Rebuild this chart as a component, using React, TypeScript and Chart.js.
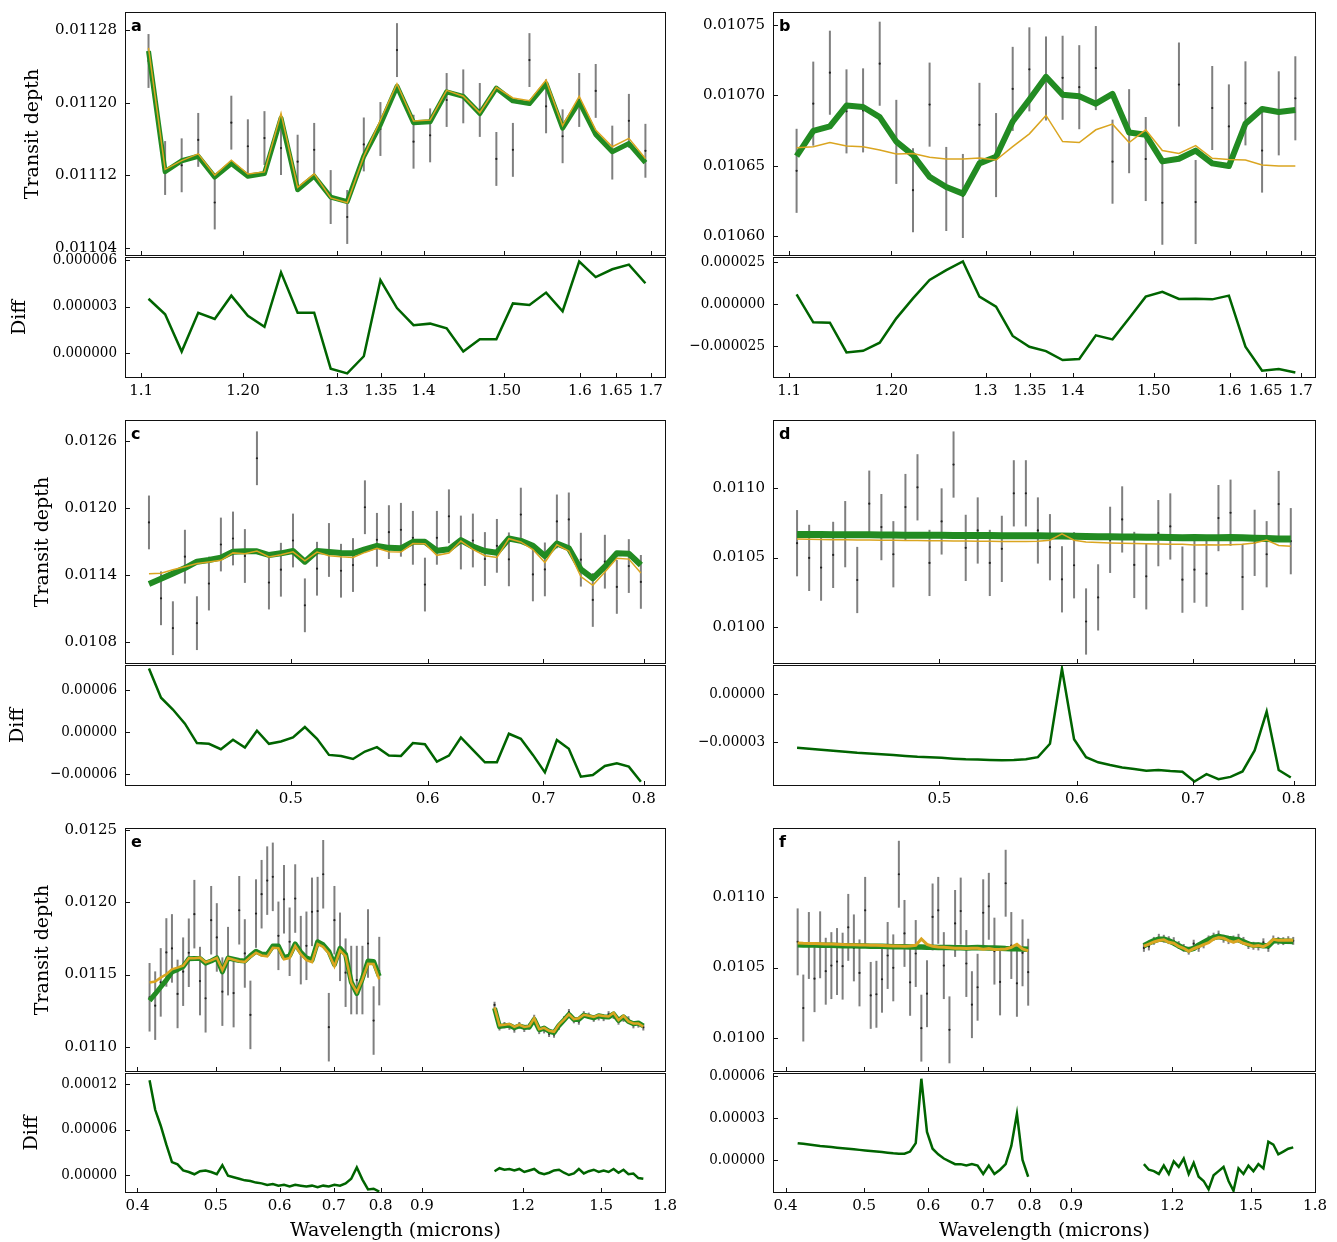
import React, { useEffect, useRef } from 'react';
import { Chart, registerables } from 'chart.js';

Chart.register(...registerables);
Chart.defaults.font.family = "'DejaVu Serif', serif";
Chart.defaults.font.size = 15;
Chart.defaults.color = '#000';

// ---------------- wavelengths ----------------
const WAVE_NIR = [1.107, 1.1228, 1.1388, 1.155, 1.1714, 1.1881, 1.205, 1.2222, 1.2396, 1.2573, 1.2752, 1.2933, 1.3117, 1.3304, 1.3494, 1.3686, 1.3881, 1.4079, 1.4279, 1.4483, 1.4689, 1.4898, 1.511, 1.5325, 1.5544, 1.5765, 1.599, 1.6217, 1.6448, 1.6683, 1.692];
const WAVE_VIS = [0.414, 0.4207, 0.4274, 0.4343, 0.4413, 0.4484, 0.4556, 0.463, 0.4704, 0.478, 0.4857, 0.4935, 0.5015, 0.5095, 0.5178, 0.5261, 0.5346, 0.5432, 0.5519, 0.5608, 0.5698, 0.579, 0.5883, 0.5978, 0.6074, 0.6172, 0.6271, 0.6372, 0.6475, 0.6579, 0.6685, 0.6792, 0.6902, 0.7013, 0.7126, 0.724, 0.7357, 0.7475, 0.7596, 0.7718, 0.7842, 0.7969];

// ---------------- panel a ----------------
const A_DATA = [0.011246, 0.011128, 0.011131, 0.011159, 0.01109, 0.011178, 0.011152, 0.011161, 0.01115, 0.011135, 0.011148, 0.011096, 0.011074, 0.011154, 0.011171, 0.011258, 0.011157, 0.011164, 0.011203, 0.011207, 0.011192, 0.011138, 0.011148, 0.011247, 0.011196, 0.011163, 0.011203, 0.011213, 0.011145, 0.01118, 0.011147];
const A_ERR = [2.97e-5, 2.97e-5, 2.97e-5, 2.97e-5, 2.97e-5, 2.97e-5, 2.97e-5, 2.97e-5, 2.97e-5, 2.97e-5, 2.97e-5, 2.97e-5, 2.97e-5, 2.97e-5, 2.97e-5, 2.97e-5, 2.97e-5, 2.97e-5, 2.97e-5, 2.97e-5, 2.97e-5, 2.97e-5, 2.97e-5, 2.97e-5, 2.97e-5, 2.97e-5, 2.97e-5, 2.97e-5, 2.97e-5, 2.97e-5, 2.97e-5];
const A_FIT = [0.011257, 0.011124, 0.011136, 0.011141, 0.011118, 0.011133, 0.011119, 0.011122, 0.011183, 0.011104, 0.011119, 0.011096, 0.011091, 0.011141, 0.011176, 0.011218, 0.011178, 0.011179, 0.011212, 0.011207, 0.011188, 0.011216, 0.011202, 0.011199, 0.011221, 0.011172, 0.011201, 0.011165, 0.011146, 0.011155, 0.011134];
const A_ALT = [0.0112605, 0.0111265, 0.0111361, 0.0111436, 0.0111202, 0.0111367, 0.0111214, 0.0111237, 0.0111882, 0.0111066, 0.0111216, 0.011095, 0.0110897, 0.0111408, 0.0111807, 0.0112209, 0.0111798, 0.0111809, 0.0112136, 0.0112071, 0.0111889, 0.0112169, 0.0112052, 0.0112021, 0.0112249, 0.0111747, 0.0112069, 0.0111699, 0.0111514, 0.0111607, 0.0111385];
const A_DIFF = [3.5e-6, 2.5e-6, 0.1e-6, 2.6e-6, 2.2e-6, 3.7e-6, 2.4e-6, 1.7e-6, 5.2e-6, 2.6e-6, 2.6e-6, -1.0e-6, -1.3e-6, -0.2e-6, 4.7e-6, 2.9e-6, 1.8e-6, 1.9e-6, 1.6e-6, 0.1e-6, 0.9e-6, 0.9e-6, 3.2e-6, 3.1e-6, 3.9e-6, 2.7e-6, 5.9e-6, 4.9e-6, 5.4e-6, 5.7e-6, 4.5e-6];

// ---------------- panel b ----------------
const B_DATA = [0.0106463, 0.0106941, 0.0107161, 0.0106886, 0.0106893, 0.0107225, 0.0106669, 0.0106325, 0.0106934, 0.0106334, 0.0106284, 0.010679, 0.0106575, 0.0107046, 0.0107185, 0.010712, 0.0107125, 0.0107058, 0.0107194, 0.0106528, 0.0106745, 0.0106547, 0.0106236, 0.0107077, 0.0106241, 0.010691, 0.0106779, 0.0106943, 0.0106607, 0.0106872, 0.0106979];
const B_ERR = [2.99e-5, 2.99e-5, 2.99e-5, 2.99e-5, 2.99e-5, 2.99e-5, 2.99e-5, 2.99e-5, 2.99e-5, 2.99e-5, 2.99e-5, 2.99e-5, 2.99e-5, 2.99e-5, 2.99e-5, 2.99e-5, 2.99e-5, 2.99e-5, 2.99e-5, 2.99e-5, 2.99e-5, 2.99e-5, 2.99e-5, 2.99e-5, 2.99e-5, 2.99e-5, 2.99e-5, 2.99e-5, 2.99e-5, 2.99e-5, 2.99e-5];
const B_FIT = [0.0106568, 0.0106747, 0.0106779, 0.0106927, 0.0106917, 0.0106845, 0.0106671, 0.0106575, 0.010642, 0.0106348, 0.0106301, 0.0106516, 0.0106563, 0.0106814, 0.010697, 0.0107132, 0.0107005, 0.0106994, 0.0106941, 0.010701, 0.0106736, 0.0106719, 0.010653, 0.0106549, 0.0106607, 0.0106516, 0.0106497, 0.0106798, 0.0106903, 0.0106881, 0.0106896];
const B_ALT = [0.0106628, 0.0106635, 0.0106664, 0.010664, 0.0106635, 0.0106611, 0.0106583, 0.0106587, 0.0106559, 0.0106547, 0.0106547, 0.0106554, 0.010654, 0.0106635, 0.0106726, 0.0106857, 0.0106671, 0.0106664, 0.0106755, 0.0106795, 0.0106664, 0.0106755, 0.0106607, 0.0106587, 0.0106642, 0.0106552, 0.0106544, 0.010654, 0.0106504, 0.0106497, 0.0106497];
const B_DIFF = [5.8e-6, -1.09e-5, -1.11e-5, -2.88e-5, -2.78e-5, -2.3e-5, -8.5e-6, 3.4e-6, 1.43e-5, 2.02e-5, 2.54e-5, 4.4e-6, -1.6e-6, -1.9e-5, -2.54e-5, -2.8e-5, -3.33e-5, -3.27e-5, -1.86e-5, -2.1e-5, -8.5e-6, 4.4e-6, 7.3e-6, 3.0e-6, 3.2e-6, 2.8e-6, 5.0e-6, -2.54e-5, -3.97e-5, -3.87e-5, -4.07e-5];

// ---------------- panel c ----------------
const C_DATA = [0.011871, 0.011191, 0.010923, 0.011564, 0.010968, 0.011323, 0.011673, 0.011727, 0.01157, 0.012446, 0.011332, 0.011447, 0.011709, 0.011128, 0.011456, 0.011624, 0.011438, 0.011489, 0.012007, 0.011715, 0.011784, 0.011805, 0.011733, 0.011314, 0.011733, 0.011926, 0.011691, 0.011709, 0.011543, 0.011661, 0.01154, 0.011941, 0.011405, 0.01145, 0.01188, 0.011898, 0.011537, 0.011176, 0.011519, 0.011293, 0.01148, 0.011338];
const C_ERR = [2.41e-4, 2.41e-4, 2.41e-4, 2.41e-4, 2.41e-4, 2.41e-4, 2.41e-4, 2.41e-4, 2.41e-4, 2.41e-4, 2.41e-4, 2.41e-4, 2.41e-4, 2.41e-4, 2.41e-4, 2.41e-4, 2.41e-4, 2.41e-4, 2.41e-4, 2.41e-4, 2.41e-4, 2.41e-4, 2.41e-4, 2.41e-4, 2.41e-4, 2.41e-4, 2.41e-4, 2.41e-4, 2.41e-4, 2.41e-4, 2.41e-4, 2.41e-4, 2.41e-4, 2.41e-4, 2.41e-4, 2.41e-4, 2.41e-4, 2.41e-4, 2.41e-4, 2.41e-4, 2.41e-4, 2.41e-4];
const C_FIT = [0.01132, 0.011366, 0.011414, 0.011462, 0.011519, 0.011534, 0.011555, 0.011609, 0.011612, 0.011612, 0.011579, 0.011594, 0.011615, 0.011519, 0.011615, 0.011606, 0.011597, 0.011594, 0.01163, 0.011661, 0.011643, 0.011639, 0.011697, 0.011697, 0.011618, 0.01163, 0.011712, 0.011655, 0.011615, 0.0116, 0.011727, 0.011706, 0.011661, 0.01157, 0.011682, 0.011639, 0.01145, 0.011369, 0.011474, 0.011594, 0.011591, 0.011489];
const C_ALT = [0.011411, 0.011415, 0.011446, 0.011474, 0.011503, 0.011517, 0.011531, 0.011598, 0.01159, 0.011614, 0.011562, 0.011581, 0.011607, 0.011526, 0.011605, 0.011573, 0.011563, 0.011556, 0.011602, 0.011639, 0.011609, 0.011605, 0.011681, 0.01168, 0.011576, 0.011596, 0.011704, 0.01163, 0.011572, 0.011557, 0.011725, 0.011696, 0.011628, 0.011512, 0.011671, 0.011615, 0.011386, 0.011308, 0.011426, 0.011549, 0.011542, 0.011418];
const C_DIFF = [9.07e-5, 4.9e-5, 3.22e-5, 1.2e-5, -1.58e-5, -1.68e-5, -2.45e-5, -1.1e-5, -2.21e-5, 1.9e-6, -1.68e-5, -1.34e-5, -7.7e-6, 7.2e-6, -9.6e-6, -3.26e-5, -3.41e-5, -3.84e-5, -2.78e-5, -2.16e-5, -3.36e-5, -3.41e-5, -1.58e-5, -1.73e-5, -4.22e-5, -3.36e-5, -7.7e-6, -2.54e-5, -4.32e-5, -4.32e-5, -2.4e-6, -9.6e-6, -3.26e-5, -5.76e-5, -1.15e-5, -2.4e-5, -6.38e-5, -6.14e-5, -4.85e-5, -4.46e-5, -4.94e-5, -7.1e-5];

// ---------------- panel d ----------------
const D_DATA = [0.0106039, 0.0104977, 0.0104276, 0.0105194, 0.0106691, 0.0103383, 0.0108889, 0.0107199, 0.0105242, 0.0108648, 0.0110072, 0.0104615, 0.0107609, 0.0111715, 0.0105701, 0.0106957, 0.0104615, 0.0105629, 0.0109638, 0.0109638, 0.0106957, 0.0105749, 0.0103431, 0.0104446, 0.0100388, 0.0102127, 0.0106281, 0.0107754, 0.010447, 0.0103649, 0.0106764, 0.0107247, 0.0103407, 0.0104131, 0.0103842, 0.0107851, 0.0108237, 0.01036, 0.0106064, 0.0105242, 0.0108865, 0.0106184];
const D_ERR = [2.39e-4, 2.39e-4, 2.39e-4, 2.39e-4, 2.39e-4, 2.39e-4, 2.39e-4, 2.39e-4, 2.39e-4, 2.39e-4, 2.39e-4, 2.39e-4, 2.39e-4, 2.39e-4, 2.39e-4, 2.39e-4, 2.39e-4, 2.39e-4, 2.39e-4, 2.39e-4, 2.39e-4, 2.39e-4, 2.39e-4, 2.39e-4, 2.39e-4, 2.39e-4, 2.39e-4, 2.39e-4, 2.39e-4, 2.39e-4, 2.39e-4, 2.39e-4, 2.39e-4, 2.39e-4, 2.39e-4, 2.39e-4, 2.39e-4, 2.39e-4, 2.39e-4, 2.39e-4, 2.39e-4, 2.39e-4];
const D_FIT = [0.010667, 0.010666, 0.010666, 0.010665, 0.010665, 0.010664, 0.010664, 0.010663, 0.010663, 0.010662, 0.010662, 0.010661, 0.010661, 0.01066, 0.01066, 0.010659, 0.010659, 0.010658, 0.010658, 0.010657, 0.010657, 0.010656, 0.010656, 0.010654, 0.010652, 0.010651, 0.01065, 0.010649, 0.010648, 0.010647, 0.010646, 0.010645, 0.010644, 0.010645, 0.010643, 0.010644, 0.010645, 0.010644, 0.01064, 0.010637, 0.010635, 0.010634];
const D_ALT = [0.0106334, 0.0106318, 0.0106311, 0.0106295, 0.0106289, 0.0106272, 0.0106268, 0.0106254, 0.0106248, 0.0106233, 0.0106227, 0.0106215, 0.0106211, 0.0106196, 0.0106192, 0.010618, 0.0106178, 0.0106166, 0.0106168, 0.0106162, 0.0106175, 0.0106249, 0.0106718, 0.0106257, 0.0106125, 0.0106083, 0.0106056, 0.0106031, 0.0106011, 0.010599, 0.0105985, 0.0105968, 0.0105954, 0.0105903, 0.0105929, 0.0105908, 0.0105932, 0.0105956, 0.0106047, 0.010626, 0.0105875, 0.0105818];
const D_DIFF = [-3.36e-5, -3.42e-5, -3.49e-5, -3.55e-5, -3.61e-5, -3.68e-5, -3.72e-5, -3.76e-5, -3.82e-5, -3.87e-5, -3.93e-5, -3.95e-5, -3.99e-5, -4.04e-5, -4.08e-5, -4.1e-5, -4.12e-5, -4.14e-5, -4.12e-5, -4.08e-5, -3.95e-5, -3.11e-5, 1.58e-5, -2.83e-5, -3.95e-5, -4.27e-5, -4.44e-5, -4.59e-5, -4.69e-5, -4.8e-5, -4.75e-5, -4.82e-5, -4.86e-5, -5.47e-5, -5.01e-5, -5.32e-5, -5.18e-5, -4.84e-5, -3.53e-5, -1.1e-5, -4.75e-5, -5.22e-5];

// ---------------- panel e ----------------
const E_VIS_DATA = [0.011343, 0.011285, 0.011446, 0.011653, 0.011681, 0.011366, 0.01152, 0.011651, 0.011918, 0.011455, 0.011336, 0.011876, 0.011757, 0.011382, 0.011593, 0.011372, 0.011945, 0.011646, 0.011221, 0.011922, 0.012056, 0.01215, 0.012176, 0.011768, 0.012021, 0.011727, 0.012026, 0.011669, 0.011699, 0.011934, 0.011939, 0.012194, 0.011136, 0.011876, 0.011692, 0.011513, 0.011462, 0.011462, 0.011462, 0.011715, 0.011182, 0.011524];
const E_VIS_ERR = [2.37e-4, 2.37e-4, 2.37e-4, 2.37e-4, 2.37e-4, 2.37e-4, 2.37e-4, 2.37e-4, 2.37e-4, 2.37e-4, 2.37e-4, 2.37e-4, 2.37e-4, 2.37e-4, 2.37e-4, 2.37e-4, 2.37e-4, 2.37e-4, 2.37e-4, 2.37e-4, 2.37e-4, 2.37e-4, 2.37e-4, 2.37e-4, 2.37e-4, 2.37e-4, 2.37e-4, 2.37e-4, 2.37e-4, 2.37e-4, 2.37e-4, 2.37e-4, 2.37e-4, 2.37e-4, 2.37e-4, 2.37e-4, 2.37e-4, 2.37e-4, 2.37e-4, 2.37e-4, 2.37e-4, 2.37e-4];
const E_VIS_FIT = [0.01132, 0.011366, 0.011414, 0.011462, 0.011519, 0.011534, 0.011555, 0.011609, 0.011612, 0.011612, 0.011579, 0.011594, 0.011615, 0.011519, 0.011615, 0.011606, 0.011597, 0.011594, 0.01163, 0.011661, 0.011643, 0.011639, 0.011697, 0.011697, 0.011618, 0.01163, 0.011712, 0.011655, 0.011615, 0.0116, 0.011727, 0.011706, 0.011661, 0.01157, 0.011682, 0.011639, 0.01145, 0.011369, 0.011474, 0.011594, 0.011591, 0.011489];
const E_VIS_ALT = [0.011445, 0.011452, 0.011479, 0.011502, 0.011536, 0.011548, 0.011561, 0.011613, 0.011613, 0.011617, 0.011585, 0.011598, 0.011616, 0.011532, 0.011614, 0.011603, 0.011592, 0.011587, 0.011622, 0.011651, 0.011632, 0.011626, 0.011685, 0.011683, 0.011605, 0.011615, 0.011699, 0.011641, 0.0116, 0.011586, 0.011711, 0.011692, 0.011646, 0.011557, 0.011668, 0.011628, 0.011445, 0.011379, 0.011468, 0.011575, 0.011573, 0.011467];
const E_VIS_DIFF = [1.25e-4, 8.6e-5, 6.5e-5, 4.0e-5, 1.7e-5, 1.4e-5, 6e-6, 4e-6, 1e-6, 5e-6, 6e-6, 4e-6, 1e-6, 1.3e-5, -1e-6, -3e-6, -5e-6, -7e-6, -8e-6, -1.0e-5, -1.1e-5, -1.3e-5, -1.2e-5, -1.4e-5, -1.3e-5, -1.5e-5, -1.3e-5, -1.4e-5, -1.5e-5, -1.4e-5, -1.6e-5, -1.4e-5, -1.5e-5, -1.3e-5, -1.4e-5, -1.1e-5, -5e-6, 1.0e-5, -6e-6, -1.9e-5, -1.8e-5, -2.2e-5];
const E_NIR_DATA = [0.01129, 0.011135, 0.01115, 0.01114, 0.01112, 0.01115, 0.011125, 0.01114, 0.0112, 0.01111, 0.011115, 0.01109, 0.011085, 0.01114, 0.01119, 0.01124, 0.011185, 0.011175, 0.011225, 0.011215, 0.011195, 0.011205, 0.0112, 0.011225, 0.011215, 0.011175, 0.011195, 0.01119, 0.01115, 0.011155, 0.011135];
const E_NIR_ERR = [2.2e-5, 2.2e-5, 2.2e-5, 2.2e-5, 2.2e-5, 2.2e-5, 2.2e-5, 2.2e-5, 2.2e-5, 2.2e-5, 2.2e-5, 2.2e-5, 2.2e-5, 2.2e-5, 2.2e-5, 2.2e-5, 2.2e-5, 2.2e-5, 2.2e-5, 2.2e-5, 2.2e-5, 2.2e-5, 2.2e-5, 2.2e-5, 2.2e-5, 2.2e-5, 2.2e-5, 2.2e-5, 2.2e-5, 2.2e-5, 2.2e-5];
const E_NIR_FIT = [0.011268, 0.01114, 0.011146, 0.01115, 0.011132, 0.011145, 0.011134, 0.011137, 0.01119, 0.011118, 0.01113, 0.011108, 0.011098, 0.011148, 0.011185, 0.011225, 0.01119, 0.01119, 0.01122, 0.01121, 0.0112, 0.011215, 0.011208, 0.011206, 0.011228, 0.011182, 0.011208, 0.011175, 0.01116, 0.011165, 0.011145];
const E_NIR_ALT = [0.011273, 0.011149, 0.011153, 0.011158, 0.011138, 0.011153, 0.011138, 0.011143, 0.011198, 0.011121, 0.011131, 0.011111, 0.011104, 0.011155, 0.011188, 0.011225, 0.011192, 0.011198, 0.011222, 0.011215, 0.011207, 0.011219, 0.011214, 0.01121, 0.011236, 0.011185, 0.011215, 0.011176, 0.011162, 0.011161, 0.01114];
const E_NIR_DIFF = [5e-6, 9e-6, 7e-6, 8e-6, 6e-6, 8e-6, 4e-6, 6e-6, 8e-6, 3e-6, 1e-6, 3e-6, 6e-6, 7e-6, 3e-6, 0, 2e-6, 8e-6, 2e-6, 5e-6, 7e-6, 4e-6, 6e-6, 4e-6, 8e-6, 3e-6, 7e-6, 1e-6, 2e-6, -4e-6, -5e-6];

// ---------------- panel f ----------------
const F_VIS_DATA = [0.010683, 0.010212, 0.010657, 0.010421, 0.010662, 0.010474, 0.010514, 0.010543, 0.01051, 0.010786, 0.01064, 0.010462, 0.010907, 0.010302, 0.01031, 0.010417, 0.010586, 0.010498, 0.011164, 0.010743, 0.010395, 0.0106, 0.010069, 0.010314, 0.01086, 0.010907, 0.010514, 0.010057, 0.010814, 0.010902, 0.010529, 0.010236, 0.01036, 0.01089, 0.010936, 0.010617, 0.010398, 0.0111, 0.010657, 0.010388, 0.010605, 0.010467];
const F_VIS_ERR = [2.38e-4, 2.38e-4, 2.38e-4, 2.38e-4, 2.38e-4, 2.38e-4, 2.38e-4, 2.38e-4, 2.38e-4, 2.38e-4, 2.38e-4, 2.38e-4, 2.38e-4, 2.38e-4, 2.38e-4, 2.38e-4, 2.38e-4, 2.38e-4, 2.38e-4, 2.38e-4, 2.38e-4, 2.38e-4, 2.38e-4, 2.38e-4, 2.38e-4, 2.38e-4, 2.38e-4, 2.38e-4, 2.38e-4, 2.38e-4, 2.38e-4, 2.38e-4, 2.38e-4, 2.38e-4, 2.38e-4, 2.38e-4, 2.38e-4, 2.38e-4, 2.38e-4, 2.38e-4, 2.38e-4, 2.38e-4];
const F_VIS_FIT = [0.010662, 0.010661, 0.010661, 0.01066, 0.010659, 0.010658, 0.010658, 0.010657, 0.010656, 0.010655, 0.010655, 0.010654, 0.010653, 0.010652, 0.010652, 0.010651, 0.01065, 0.010649, 0.010649, 0.010648, 0.010647, 0.010646, 0.010646, 0.010645, 0.010644, 0.010643, 0.010643, 0.010642, 0.010641, 0.010641, 0.01064, 0.010641, 0.010642, 0.010641, 0.01064, 0.010639, 0.010637, 0.010635, 0.010634, 0.010633, 0.010632, 0.010631];
const F_VIS_ALT = [0.010674, 0.0106725, 0.010672, 0.0106705, 0.010669, 0.0106676, 0.0106672, 0.0106658, 0.0106644, 0.010663, 0.0106626, 0.0106612, 0.0106598, 0.0106584, 0.010658, 0.0106566, 0.0106552, 0.0106538, 0.0106535, 0.0106525, 0.010653, 0.010658, 0.010704, 0.010665, 0.010652, 0.010647, 0.010644, 0.010641, 0.010638, 0.010638, 0.010636, 0.010638, 0.010638, 0.010631, 0.010636, 0.010629, 0.01063, 0.010632, 0.010644, 0.010666, 0.010632, 0.010619];
const F_VIS_DIFF = [1.2e-5, 1.15e-5, 1.1e-5, 1.05e-5, 1.0e-5, 9.6e-6, 9.2e-6, 8.8e-6, 8.4e-6, 8.0e-6, 7.6e-6, 7.2e-6, 6.8e-6, 6.4e-6, 6.0e-6, 5.6e-6, 5.2e-6, 4.8e-6, 4.5e-6, 4.5e-6, 6e-6, 1.2e-5, 5.8e-5, 2.0e-5, 8e-6, 4e-6, 1e-6, -1e-6, -3e-6, -3e-6, -4e-6, -3e-6, -4e-6, -1.0e-5, -4e-6, -1.0e-5, -7e-6, -3e-6, 1.0e-5, 3.3e-5, 0, -1.2e-5];
const F_NIR_DATA = [0.01064, 0.01065, 0.01069, 0.010712, 0.010705, 0.010695, 0.010688, 0.01066, 0.01064, 0.01062, 0.01067, 0.01064, 0.010665, 0.0107, 0.01072, 0.010735, 0.010705, 0.010695, 0.0107, 0.010712, 0.01069, 0.01066, 0.010655, 0.01065, 0.01068, 0.01064, 0.0107, 0.01069, 0.010688, 0.010695, 0.01069];
const F_NIR_ERR = [2.8e-5, 2.8e-5, 2.8e-5, 2.8e-5, 2.8e-5, 2.8e-5, 2.8e-5, 2.8e-5, 2.8e-5, 2.8e-5, 2.8e-5, 2.8e-5, 2.8e-5, 2.8e-5, 2.8e-5, 2.8e-5, 2.8e-5, 2.8e-5, 2.8e-5, 2.8e-5, 2.8e-5, 2.8e-5, 2.8e-5, 2.8e-5, 2.8e-5, 2.8e-5, 2.8e-5, 2.8e-5, 2.8e-5, 2.8e-5, 2.8e-5];
const F_NIR_FIT = [0.010655, 0.010674, 0.01069, 0.010702, 0.010702, 0.01069, 0.010674, 0.010655, 0.010636, 0.010626, 0.010636, 0.01066, 0.010679, 0.010698, 0.010714, 0.010721, 0.010714, 0.010707, 0.010702, 0.010698, 0.010683, 0.010667, 0.01066, 0.01066, 0.010655, 0.010655, 0.01069, 0.01069, 0.010688, 0.010688, 0.010686];
const F_NIR_ALT = [0.010652, 0.010667, 0.010682, 0.010692, 0.010698, 0.01068, 0.010673, 0.01065, 0.010637, 0.010616, 0.010634, 0.010648, 0.010664, 0.010677, 0.010703, 0.010713, 0.010709, 0.010692, 0.01068, 0.010692, 0.010673, 0.010663, 0.010652, 0.010657, 0.010649, 0.010668, 0.010701, 0.010694, 0.010694, 0.010696, 0.010695];
const F_NIR_DIFF = [-3e-6, -7e-6, -8e-6, -1.0e-5, -4e-6, -1.0e-5, -1e-6, -5e-6, 1e-6, -1.0e-5, -2e-6, -1.2e-5, -1.5e-5, -2.1e-5, -1.1e-5, -8e-6, -5e-6, -1.5e-5, -2.2e-5, -6e-6, -1.0e-5, -4e-6, -8e-6, -3e-6, -6e-6, 1.3e-5, 1.1e-5, 4e-6, 6e-6, 8e-6, 9e-6];

// ---------------- ticks ----------------
const NIR_TICKS = [1.1, 1.2, 1.3, 1.35, 1.4, 1.5, 1.6, 1.65, 1.7];
const NIR_TICK_LABELS = ['1.1', '1.20', '1.3', '1.35', '1.4', '1.50', '1.6', '1.65', '1.7'];
const VIS_TICKS = [0.5, 0.6, 0.7, 0.8];
const VIS_TICK_LABELS = ['0.5', '0.6', '0.7', '0.8'];
const ALL_TICKS = [0.4, 0.5, 0.6, 0.7, 0.8, 0.9, 1.2, 1.5, 1.8];
const ALL_TICK_LABELS = ['0.4', '0.5', '0.6', '0.7', '0.8', '0.9', '1.2', '1.5', '1.8'];

const A_YTICKS = [0.01104, 0.01112, 0.0112, 0.01128];
const A_YLABELS = ['0.01104', '0.01112', '0.01120', '0.01128'];
const A_DTICKS = [0, 3e-6, 6e-6];
const A_DLABELS = ['0.000000', '0.000003', '0.000006'];
const B_YTICKS = [0.0106, 0.01065, 0.0107, 0.01075];
const B_YLABELS = ['0.01060', '0.01065', '0.01070', '0.01075'];
const B_DTICKS = [-2.5e-5, 0, 2.5e-5];
const B_DLABELS = ['\u22120.000025', '0.000000', '0.000025'];
const C_YTICKS = [0.0108, 0.0114, 0.012, 0.0126];
const C_YLABELS = ['0.0108', '0.0114', '0.0120', '0.0126'];
const C_DTICKS = [-6e-5, 0, 6e-5];
const C_DLABELS = ['\u22120.00006', '0.00000', '0.00006'];
const D_YTICKS = [0.01, 0.0105, 0.011];
const D_YLABELS = ['0.0100', '0.0105', '0.0110'];
const D_DTICKS = [-3e-5, 0];
const D_DLABELS = ['\u22120.00003', '0.00000'];
const E_YTICKS = [0.011, 0.0115, 0.012, 0.0125];
const E_YLABELS = ['0.0110', '0.0115', '0.0120', '0.0125'];
const E_DTICKS = [0, 6e-5, 1.2e-4];
const E_DLABELS = ['0.00000', '0.00006', '0.00012'];
const F_YTICKS = [0.01, 0.0105, 0.011];
const F_YLABELS = ['0.0100', '0.0105', '0.0110'];
const F_DTICKS = [0, 3e-5, 6e-5];
const F_DLABELS = ['0.00000', '0.00003', '0.00006'];

// ---------------- styling ----------------
const GREEN = '#228B22';
const GOLD = '#DAA520';
const DIFF_GREEN = '#006400';
const ERR_COLOR = 'rgba(105,105,105,0.85)';

type Group = { x: number[]; data?: number[]; err?: number[]; fit?: number[]; alt?: number[]; diff?: number[] };
type Spec = {
  key: string;
  kind: 'main' | 'diff';
  col: 0 | 1;
  top: number;
  bottom: number;
  groups: Group[];
  xMin: number; xMax: number; xTicks: number[]; xLabels: string[];
  yMin: number; yMax: number; yTicks: number[]; yLabels: string[];
  fitW?: number; altW?: number;
  letter?: string;
  yTitle?: string; yTitleX?: number;
  xTitle?: string;
  showX: boolean;
};

const pts = (xs: number[], ys: number[]) => xs.map((x, i) => ({ x, y: ys[i] }));

const decor = {
  id: 'decor',
  beforeDatasetsDraw(chart: any) {
    const { ctx, chartArea: a, scales } = chart;
    const xs = scales.x, ys = scales.y;
    ctx.save();
    ctx.beginPath();
    ctx.rect(a.left, a.top, a.right - a.left, a.bottom - a.top);
    ctx.clip();
    ctx.strokeStyle = ERR_COLOR;
    ctx.lineWidth = 2;
    chart.data.datasets.forEach((ds: any) => {
      if (!ds.errs) return;
      ds.data.forEach((p: any, i: number) => {
        const px = xs.getPixelForValue(p.x);
        ctx.beginPath();
        ctx.moveTo(px, ys.getPixelForValue(p.y - ds.errs[i]));
        ctx.lineTo(px, ys.getPixelForValue(p.y + ds.errs[i]));
        ctx.stroke();
      });
    });
    ctx.restore();
  },
  afterDraw(chart: any, _args: any, o: any) {
    const { ctx, chartArea: a, scales } = chart;
    ctx.save();
    ctx.strokeStyle = '#111';
    ctx.lineWidth = 1;
    ctx.strokeRect(a.left + 0.5, a.top + 0.5, a.right - a.left - 1, a.bottom - a.top - 1);
    ctx.beginPath();
    scales.x.ticks.forEach((t: any) => {
      const px = Math.round(scales.x.getPixelForValue(t.value)) + 0.5;
      ctx.moveTo(px, a.bottom);
      ctx.lineTo(px, a.bottom - 5);
    });
    scales.y.ticks.forEach((t: any) => {
      const py = Math.round(scales.y.getPixelForValue(t.value)) + 0.5;
      ctx.moveTo(a.left, py);
      ctx.lineTo(a.left + 5, py);
    });
    ctx.stroke();
    ctx.fillStyle = '#000';
    if (o.letter) {
      ctx.font = "bold 16px 'DejaVu Sans', sans-serif";
      ctx.textAlign = 'left';
      ctx.textBaseline = 'alphabetic';
      ctx.fillText(o.letter, a.left + 6, a.top + 19);
    }
    if (o.yTitle) {
      ctx.font = "19px 'DejaVu Serif', serif";
      ctx.save();
      ctx.translate(o.yTitleX, (a.top + a.bottom) / 2);
      ctx.rotate(-Math.PI / 2);
      ctx.textAlign = 'center';
      ctx.textBaseline = 'middle';
      ctx.fillText(o.yTitle, 0, 0);
      ctx.restore();
    }
    if (o.xTitle) {
      ctx.font = "19px 'DejaVu Serif', serif";
      ctx.textAlign = 'center';
      ctx.textBaseline = 'middle';
      ctx.fillText(o.xTitle, (a.left + a.right) / 2, a.bottom + 38);
    }
    ctx.restore();
  },
};

function geometry(s: Spec) {
  const canvasLeft = s.col === 0 ? 0 : 670;
  const canvasWidth = s.col === 0 ? 700 : 667;
  const plotLeft = s.col === 0 ? 125 : 773;
  const plotRight = s.col === 0 ? 666 : 1316;
  const padTop = 20;
  const xh = s.showX ? 28 : 0;
  const padBottom = s.kind === 'main' ? 20 : s.xTitle ? 32 : 10;
  const canvasTop = s.top - padTop;
  const canvasHeight = padTop + (s.bottom - s.top) + xh + padBottom;
  return { canvasLeft, canvasWidth, canvasTop, canvasHeight, yw: plotLeft - canvasLeft, padRight: canvasLeft + canvasWidth - plotRight, padTop, padBottom, xh };
}

function buildConfig(s: Spec): any {
  const g = geometry(s);
  const datasets: any[] = [];
  s.groups.forEach((gr) => {
    if (s.kind === 'main') {
      datasets.push({ data: pts(gr.x, gr.alt!), borderColor: GOLD, borderWidth: s.altW, pointRadius: 0, tension: 0, fill: false, order: 0 });
      datasets.push({ data: pts(gr.x, gr.fit!), borderColor: GREEN, borderWidth: s.fitW, pointRadius: 0, tension: 0, fill: false, order: 1, borderJoinStyle: 'round' });
      datasets.push({ data: pts(gr.x, gr.data!), errs: gr.err, showLine: false, pointRadius: 1.1, pointBackgroundColor: '#222', pointBorderColor: '#222', pointBorderWidth: 0, order: 2 });
    } else {
      datasets.push({ data: pts(gr.x, gr.diff!), borderColor: DIFF_GREEN, borderWidth: 2.5, pointRadius: 0, tension: 0, fill: false });
    }
  });
  const diffFont = s.kind === 'diff' ? { family: "'DejaVu Serif Condensed', 'DejaVu Serif', serif", size: 15 } : { size: 15 };
  return {
    type: 'line',
    data: { datasets },
    options: {
      animation: false,
      responsive: false,
      devicePixelRatio: 1,
      events: [],
      layout: { padding: { left: 0, right: g.padRight, top: g.padTop, bottom: g.padBottom } },
      plugins: {
        legend: { display: false },
        tooltip: { enabled: false },
        decor: { letter: s.letter, yTitle: s.yTitle, yTitleX: s.yTitleX, xTitle: s.xTitle },
      },
      scales: {
        x: {
          type: 'logarithmic',
          min: s.xMin,
          max: s.xMax,
          afterBuildTicks: (sc: any) => { sc.ticks = s.xTicks.map((v) => ({ value: v })); },
          afterFit: (sc: any) => { sc.height = g.xh; },
          grid: { display: false, drawTicks: false },
          border: { display: false },
          ticks: { display: s.showX, autoSkip: false, maxRotation: 0, minRotation: 0, padding: 4, font: { size: 15 }, color: '#000', callback: (_v: any, i: number) => s.xLabels[i] },
        },
        y: {
          type: 'linear',
          min: s.yMin,
          max: s.yMax,
          afterBuildTicks: (sc: any) => { sc.ticks = s.yTicks.map((v) => ({ value: v })); },
          afterFit: (sc: any) => { sc.width = g.yw; },
          grid: { display: false, drawTicks: false },
          border: { display: false },
          ticks: { autoSkip: false, padding: 8, font: diffFont, color: '#000', callback: (_v: any, i: number) => s.yLabels[i] },
        },
      },
    },
    plugins: [decor],
  };
}

const NIR_RANGE = { xMin: 1.085, xMax: 1.722, xTicks: NIR_TICKS, xLabels: NIR_TICK_LABELS };
const VIS_RANGE = { xMin: 0.401, xMax: 0.824, xTicks: VIS_TICKS, xLabels: VIS_TICK_LABELS };
const ALL_RANGE = { xMin: 0.386, xMax: 1.805, xTicks: ALL_TICKS, xLabels: ALL_TICK_LABELS };

const SPECS: Spec[] = [
  { key: 'a', kind: 'main', col: 0, top: 12, bottom: 256, ...NIR_RANGE, yMin: 0.011031, yMax: 0.0113, yTicks: A_YTICKS, yLabels: A_YLABELS, fitW: 5, altW: 1.5, letter: 'a', yTitle: 'Transit depth', yTitleX: 33, showX: false,
    groups: [{ x: WAVE_NIR, data: A_DATA, err: A_ERR, fit: A_FIT, alt: A_ALT }] },
  { key: 'ad', kind: 'diff', col: 0, top: 257, bottom: 378, ...NIR_RANGE, yMin: -1.6e-6, yMax: 6.19e-6, yTicks: A_DTICKS, yLabels: A_DLABELS, yTitle: 'Diff', yTitleX: 20, showX: true,
    groups: [{ x: WAVE_NIR, diff: A_DIFF }] },
  { key: 'b', kind: 'main', col: 1, top: 12, bottom: 256, ...NIR_RANGE, yMin: 0.0105857, yMax: 0.0107593, yTicks: B_YTICKS, yLabels: B_YLABELS, fitW: 6, altW: 1.5, letter: 'b', showX: false,
    groups: [{ x: WAVE_NIR, data: B_DATA, err: B_ERR, fit: B_FIT, alt: B_ALT }] },
  { key: 'bd', kind: 'diff', col: 1, top: 257, bottom: 378, ...NIR_RANGE, yMin: -4.4e-5, yMax: 2.8e-5, yTicks: B_DTICKS, yLabels: B_DLABELS, showX: true,
    groups: [{ x: WAVE_NIR, diff: B_DIFF }] },
  { key: 'c', kind: 'main', col: 0, top: 420, bottom: 664, ...VIS_RANGE, yMin: 0.010602, yMax: 0.012789, yTicks: C_YTICKS, yLabels: C_YLABELS, fitW: 6, altW: 1.5, letter: 'c', yTitle: 'Transit depth', yTitleX: 43, showX: false,
    groups: [{ x: WAVE_VIS, data: C_DATA, err: C_ERR, fit: C_FIT, alt: C_ALT }] },
  { key: 'cd', kind: 'diff', col: 0, top: 665, bottom: 786, ...VIS_RANGE, yMin: -7.7e-5, yMax: 9.57e-5, yTicks: C_DTICKS, yLabels: C_DLABELS, yTitle: 'Diff', yTitleX: 18, showX: true,
    groups: [{ x: WAVE_VIS, diff: C_DIFF }] },
  { key: 'd', kind: 'main', col: 1, top: 420, bottom: 664, ...VIS_RANGE, yMin: 0.009732, yMax: 0.011493, yTicks: D_YTICKS, yLabels: D_YLABELS, fitW: 7, altW: 1.5, letter: 'd', showX: false,
    groups: [{ x: WAVE_VIS, data: D_DATA, err: D_ERR, fit: D_FIT, alt: D_ALT }] },
  { key: 'dd', kind: 'diff', col: 1, top: 665, bottom: 786, ...VIS_RANGE, yMin: -5.75e-5, yMax: 1.81e-5, yTicks: D_DTICKS, yLabels: D_DLABELS, showX: true,
    groups: [{ x: WAVE_VIS, diff: D_DIFF }] },
  { key: 'e', kind: 'main', col: 0, top: 828, bottom: 1072, ...ALL_RANGE, yMin: 0.010826, yMax: 0.012514, yTicks: E_YTICKS, yLabels: E_YLABELS, fitW: 5, altW: 2.5, letter: 'e', yTitle: 'Transit depth', yTitleX: 43, showX: false,
    groups: [
      { x: WAVE_VIS, data: E_VIS_DATA, err: E_VIS_ERR, fit: E_VIS_FIT, alt: E_VIS_ALT },
      { x: WAVE_NIR, data: E_NIR_DATA, err: E_NIR_ERR, fit: E_NIR_FIT, alt: E_NIR_ALT },
    ] },
  { key: 'ed', kind: 'diff', col: 0, top: 1073, bottom: 1193, ...ALL_RANGE, yMin: -2.37e-5, yMax: 1.345e-4, yTicks: E_DTICKS, yLabels: E_DLABELS, yTitle: 'Diff', yTitleX: 32, xTitle: 'Wavelength (microns)', showX: true,
    groups: [{ x: WAVE_VIS, diff: E_VIS_DIFF }, { x: WAVE_NIR, diff: E_NIR_DIFF }] },
  { key: 'f', kind: 'main', col: 1, top: 828, bottom: 1072, ...ALL_RANGE, yMin: 0.009757, yMax: 0.011493, yTicks: F_YTICKS, yLabels: F_YLABELS, fitW: 5.5, altW: 3, letter: 'f', showX: false,
    groups: [
      { x: WAVE_VIS, data: F_VIS_DATA, err: F_VIS_ERR, fit: F_VIS_FIT, alt: F_VIS_ALT },
      { x: WAVE_NIR, data: F_NIR_DATA, err: F_NIR_ERR, fit: F_NIR_FIT, alt: F_NIR_ALT },
    ] },
  { key: 'fd', kind: 'diff', col: 1, top: 1073, bottom: 1193, ...ALL_RANGE, yMin: -2.36e-5, yMax: 6.21e-5, yTicks: F_DTICKS, yLabels: F_DLABELS, xTitle: 'Wavelength (microns)', showX: true,
    groups: [{ x: WAVE_VIS, diff: F_VIS_DIFF }, { x: WAVE_NIR, diff: F_NIR_DIFF }] },
];

function Panel({ spec }: { spec: Spec }) {
  const ref = useRef<HTMLCanvasElement>(null);
  const g = geometry(spec);
  useEffect(() => {
    if (!ref.current) return;
    const chart = new Chart(ref.current, buildConfig(spec));
    return () => chart.destroy();
  }, [spec]);
  return (
    <canvas
      ref={ref}
      width={g.canvasWidth}
      height={g.canvasHeight}
      style={{ position: 'absolute', left: g.canvasLeft, top: g.canvasTop, width: g.canvasWidth, height: g.canvasHeight }}
    />
  );
}

export default function App() {
  return (
    <div style={{ position: 'absolute', left: 0, top: 0, width: 1337, height: 1242, background: '#fff', overflow: 'hidden' }}>
      {SPECS.map((s) => (
        <Panel key={s.key} spec={s} />
      ))}
    </div>
  );
}
